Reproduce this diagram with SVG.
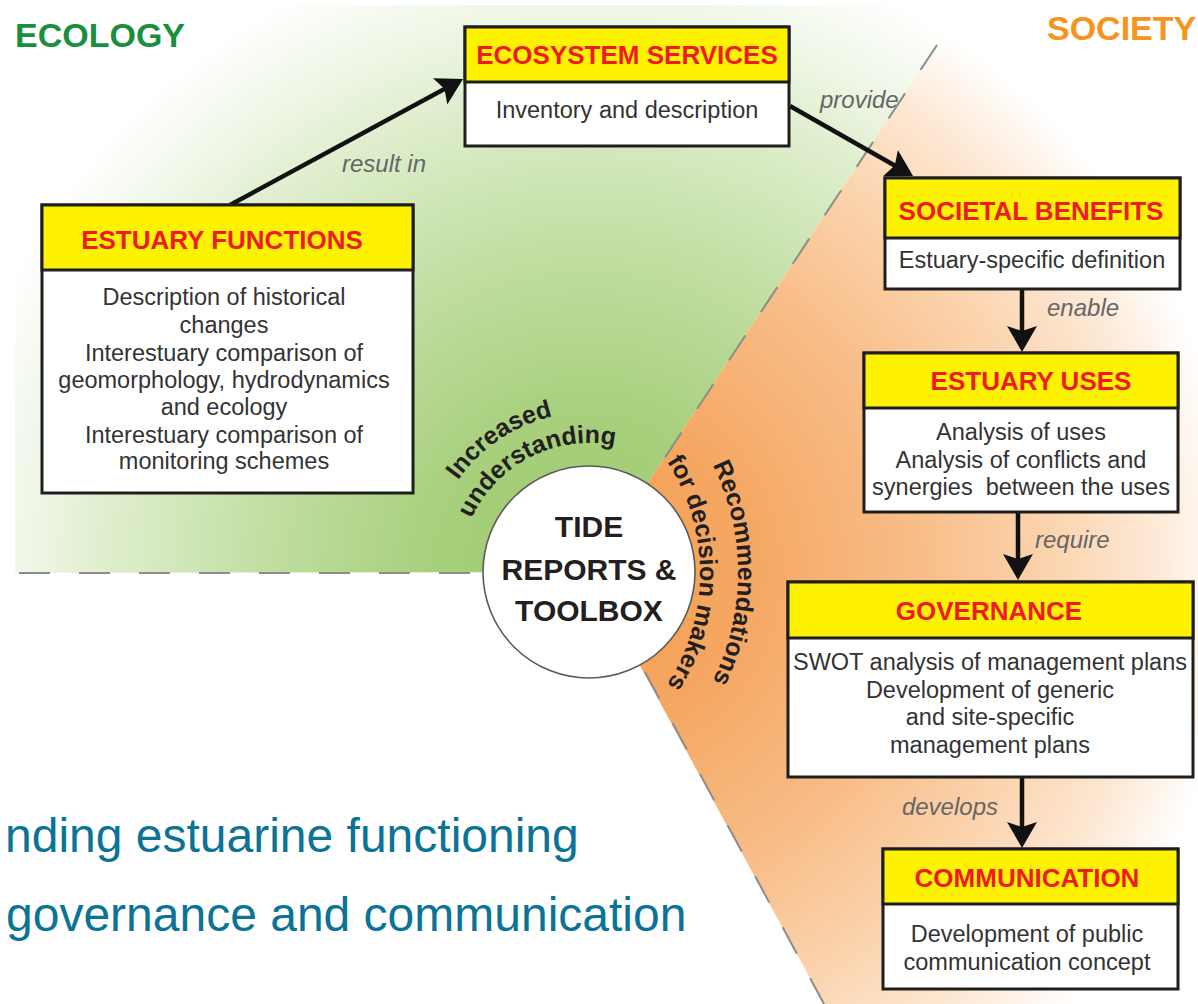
<svg xmlns="http://www.w3.org/2000/svg" width="1198" height="1004" viewBox="0 0 1198 1004">
<defs>
<radialGradient id="gGreen" gradientUnits="userSpaceOnUse" cx="589" cy="572" r="660">
<stop offset="0" stop-color="#9cc969"/>
<stop offset="0.25" stop-color="#a8d07e"/>
<stop offset="0.5" stop-color="#c2dfa3"/>
<stop offset="0.7" stop-color="#dbecc7"/>
<stop offset="0.86" stop-color="#f0f7e8"/>
<stop offset="0.98" stop-color="#ffffff"/>
</radialGradient>
<radialGradient id="gOrange" gradientUnits="userSpaceOnUse" cx="589" cy="572" r="660">
<stop offset="0" stop-color="#f39c4a"/>
<stop offset="0.25" stop-color="#f5a864"/>
<stop offset="0.5" stop-color="#f8bd88"/>
<stop offset="0.7" stop-color="#fbd4ae"/>
<stop offset="0.86" stop-color="#fde9d6"/>
<stop offset="0.98" stop-color="#ffffff"/>
</radialGradient>
<marker id="arr" markerUnits="userSpaceOnUse" markerWidth="34" markerHeight="34" viewBox="0 0 34 34" refX="18" refY="15" orient="auto">
<path d="M0,0 L26,15 L0,30 L5,15 Z" fill="#111"/>
</marker>
<path id="pInc" d="M429.4,583.2 A160,160 0 0 1 659.1,428.2"/>
<path id="pUnd" d="M460.2,565.3 A129,129 0 0 1 659.3,463.8"/>
<path id="pFor" d="M597.5,395.5 A205,205 0 0 1 597.5,750.5"/>
<path id="pRec" d="M651.2,386.9 A243,243 0 0 1 651.2,759.1"/>
</defs>
<style>
.box{fill:#ffffff;stroke:#1e1e1e;stroke-width:3}
.hdr{fill:#fff200;stroke:#1e1e1e;stroke-width:3}
.ttl{font-family:"Liberation Sans",Arial,sans-serif;font-weight:bold;font-size:26px;fill:#ed1c24;text-anchor:middle}
.body{font-family:"Liberation Sans",Arial,sans-serif;font-size:23.5px;fill:#333333;text-anchor:middle}
.lbl{font-family:"Liberation Sans",Arial,sans-serif;font-style:italic;font-size:24px;fill:#666666}
.conn{stroke:#111111;stroke-width:4.5;fill:none;marker-end:url(#arr)}
.dash{stroke:#8c8c8c;stroke-width:2;stroke-dasharray:30 28;fill:none}
.arc{font-family:"Liberation Sans",Arial,sans-serif;font-weight:bold;font-size:25px;fill:#231f20}
.hub{font-family:"Liberation Sans",Arial,sans-serif;font-weight:bold;font-size:30px;fill:#231f20;text-anchor:middle}
.big{font-family:"Liberation Sans",Arial,sans-serif;font-size:48px;fill:#0a7396}
</style>
<rect x="0" y="0" width="1198" height="1004" fill="#ffffff"/>
<g id="background">
<path d="M15,5 L963,5 L589,572 L15,573 Z" fill="url(#gGreen)"/>
<path d="M589,572 L963,5 L1198,5 L1198,1004 L824,1004 Z" fill="url(#gOrange)"/>
<line class="dash" x1="19" y1="573" x2="483" y2="573" style="stroke-dasharray:31 29"/>
<line class="dash" x1="937" y1="45" x2="660" y2="465"/>
<line class="dash" x1="645" y1="672" x2="824" y2="1004"/>
<text x="15" y="47" font-family="Liberation Sans, Arial, sans-serif" font-weight="bold" font-size="34" fill="#1a8f3f">ECOLOGY</text>
<text x="1047" y="40" font-family="Liberation Sans, Arial, sans-serif" font-weight="bold" font-size="34" fill="#f7941d">SOCIETY</text>
<text class="big" x="5" y="852">nding estuarine functioning</text>
<text class="big" x="6" y="931">governance and communication</text>
</g>
<g id="connectors">
<path class="conn" d="M230,205 L456,82.8"/>
<path class="conn" d="M790,106 L906.1,172"/>
<path class="conn" d="M1022,290 L1022,344"/>
<path class="conn" d="M1018,512 L1018,572"/>
<path class="conn" d="M1022,777 L1022,840"/>
<text class="lbl" x="342" y="172">result in</text>
<text class="lbl" x="820" y="108">provide</text>
<text class="lbl" x="1047" y="316">enable</text>
<text class="lbl" x="1035" y="548">require</text>
<text class="lbl" x="998" y="815" text-anchor="end">develops</text>
</g>
<g id="hub">
<circle cx="589" cy="572" r="106" fill="#ffffff" stroke="#5a5a5a" stroke-width="1.6"/>
<text class="hub" x="589" y="537">TIDE</text>
<text class="hub" x="589" y="580">REPORTS &amp;</text>
<text class="hub" x="589" y="621">TOOLBOX</text>
<text class="arc"><textPath href="#pInc" startOffset="50%" text-anchor="middle">Increased</textPath></text>
<text class="arc"><textPath href="#pUnd" startOffset="50%" text-anchor="middle">understanding</textPath></text>
<text class="arc"><textPath href="#pRec" startOffset="50%" text-anchor="middle">Recommendations</textPath></text>
<text class="arc"><textPath href="#pFor" startOffset="50%" text-anchor="middle">for decision makers</textPath></text>
</g>
<g id="ecosystem-services">
<rect class="box" x="465" y="27" width="324" height="119"/>
<rect class="hdr" x="465" y="27" width="324" height="55"/>
<text class="ttl" x="627" y="64">ECOSYSTEM SERVICES</text>
<text class="body" x="627" y="118">Inventory and description</text>
</g>
<g id="estuary-functions">
<rect class="box" x="42" y="205" width="371" height="288"/>
<rect class="hdr" x="42" y="205" width="371" height="65"/>
<text class="ttl" x="222" y="249">ESTUARY FUNCTIONS</text>
<text class="body" x="224" y="305">Description of historical</text>
<text class="body" x="224" y="333">changes</text>
<text class="body" x="224" y="361">Interestuary comparison of</text>
<text class="body" x="224" y="388">geomorphology, hydrodynamics</text>
<text class="body" x="224" y="415">and ecology</text>
<text class="body" x="224" y="443">Interestuary comparison of</text>
<text class="body" x="224" y="469">monitoring schemes</text>
</g>
<g id="societal-benefits">
<rect class="box" x="885" y="178" width="295" height="111"/>
<rect class="hdr" x="885" y="178" width="295" height="60"/>
<text class="ttl" x="1031" y="220">SOCIETAL BENEFITS</text>
<text class="body" x="1032" y="268">Estuary-specific definition</text>
</g>
<g id="estuary-uses">
<rect class="box" x="864" y="353" width="314" height="159"/>
<rect class="hdr" x="864" y="353" width="314" height="55"/>
<text class="ttl" x="1031" y="390">ESTUARY USES</text>
<text class="body" x="1021" y="440">Analysis of uses</text>
<text class="body" x="1021" y="468">Analysis of conflicts and</text>
<text class="body" x="1021" y="495" xml:space="preserve">synergies  between the uses</text>
</g>
<g id="governance">
<rect class="box" x="788" y="582" width="405" height="195"/>
<rect class="hdr" x="788" y="582" width="405" height="56"/>
<text class="ttl" x="989" y="620">GOVERNANCE</text>
<text class="body" x="990" y="670">SWOT analysis of management plans</text>
<text class="body" x="990" y="698">Development of generic</text>
<text class="body" x="990" y="725">and site-specific</text>
<text class="body" x="990" y="753">management plans</text>
</g>
<g id="communication">
<rect class="box" x="883" y="849" width="295" height="140"/>
<rect class="hdr" x="883" y="849" width="295" height="55"/>
<text class="ttl" x="1027" y="887">COMMUNICATION</text>
<text class="body" x="1027" y="942">Development of public</text>
<text class="body" x="1027" y="970">communication concept</text>
</g>
</svg>
